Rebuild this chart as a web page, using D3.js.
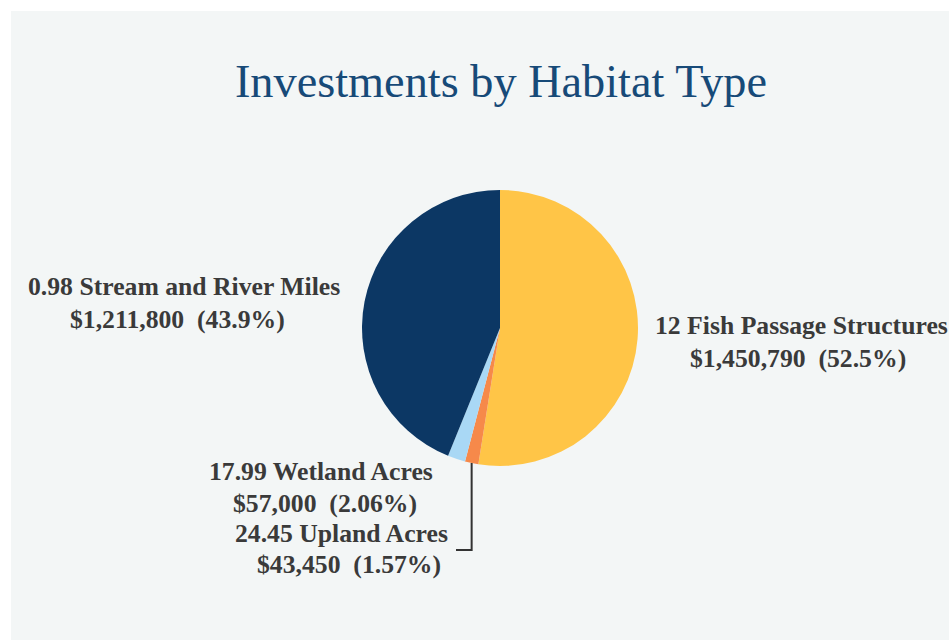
<!DOCTYPE html>
<html>
<head>
<meta charset="utf-8">
<script src="https://cdn.jsdelivr.net/npm/d3@7/dist/d3.min.js"></script>
<style>
  html, body { margin: 0; padding: 0; background: #ffffff; }
  svg { display: block; }
</style>
</head>
<body>
<svg id="chart" width="949" height="640"></svg>
<script>
// Habitat investment data (clockwise from 12 o'clock)
const categories = ["12 Fish Passage Structures", "24.45 Upland Acres", "17.99 Wetland Acres", "0.98 Stream and River Miles"];
const amounts = [1450790, 43450, 57000, 1211800];
const shareLabels = ["52.5%", "1.57%", "2.06%", "43.9%"];
const sliceColors = ["#FFC547", "#F6894A", "#A9D8F5", "#0C3764"];

const W = 949, H = 640;
const cx = 500, cy = 328, R = 138;

const svg = d3.select("#chart");

// Panel background
svg.append("rect").attr("x", 11).attr("y", 11).attr("width", W - 11).attr("height", H - 11)
  .attr("fill", "#f3f6f6");

// Title
svg.append("text")
  .attr("x", 501).attr("y", 97)
  .attr("text-anchor", "middle")
  .attr("font-family", "'Liberation Serif', 'Times New Roman', serif")
  .attr("font-size", 46.3)
  .attr("fill", "#174a78")
  .text("Investments by Habitat Type");

const data = categories.map((c, i) => ({ name: c, value: amounts[i], share: shareLabels[i], color: sliceColors[i] }));

const pie = d3.pie().sort(null).value(d => d.value);
const arcs = pie(data);
const arc = d3.arc().innerRadius(0).outerRadius(R);

const g = svg.append("g").attr("transform", `translate(${cx},${cy})`);
g.selectAll("path").data(arcs).enter().append("path")
  .attr("d", arc)
  .attr("fill", d => d.data.color);

const fmt = d3.format(",");

// Label placement: start x and baseline y of each line
const labelLayout = [
  { lines: [[655, 334], [690, 367]] },   // fish passage
  { lines: [[235, 542], [257, 573]] },   // upland
  { lines: [[209, 480], [233, 512]] },   // wetland
  { lines: [[28, 295], [70, 328]] }      // stream
];

const labels = svg.append("g")
  .attr("font-family", "'Liberation Serif', 'Times New Roman', serif")
  .attr("font-weight", "bold")
  .attr("font-size", 25.7)
  .attr("fill", "#3a3a3a");

arcs.forEach((a, i) => {
  const L = labelLayout[i].lines;
  labels.append("text").attr("x", L[0][0]).attr("y", L[0][1]).text(a.data.name);
  labels.append("text").attr("x", L[1][0]).attr("y", L[1][1])
    .text(`$${fmt(a.data.value)}\u00a0\u00a0(${a.data.share})`);
});

// Leader line from the Upland slice edge down to its label
const up = arcs[1];
const mid = (up.startAngle + up.endAngle) / 2;
const px = cx + R * Math.sin(mid), py = cy - R * Math.cos(mid);
svg.append("path")
  .attr("d", `M${px},${py} L${px},550 L456,550`)
  .attr("fill", "none")
  .attr("stroke", "#333")
  .attr("stroke-width", 2);
</script>
</body>
</html>
